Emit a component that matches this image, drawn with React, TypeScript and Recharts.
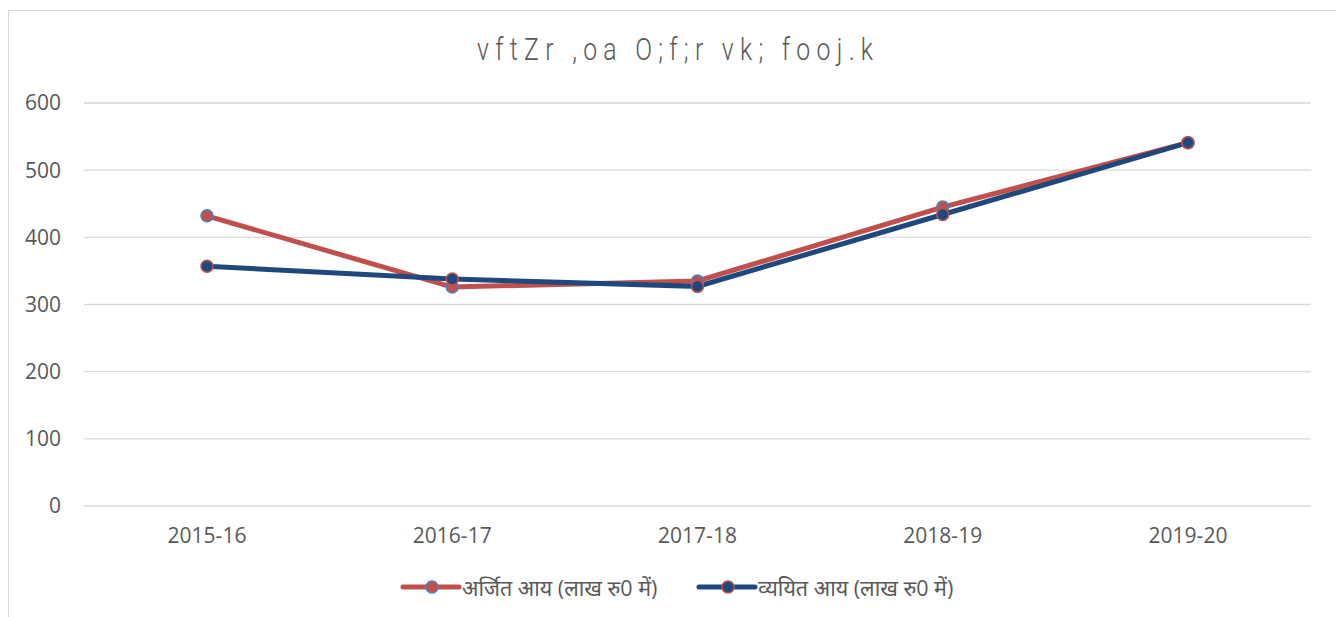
import React from 'react';
import { LineChart, Line, XAxis, YAxis, CartesianGrid } from 'recharts';

const categories = ['2015-16', '2016-17', '2017-18', '2018-19', '2019-20'];
const earnedIncome = [432, 326, 335, 445, 541];
const spentIncome = [357, 338, 327, 434, 541];
const yTicks = [0, 100, 200, 300, 400, 500, 600];
const titleText = 'vftZr ,oa O;f;r vk; fooj.k';
const earnedName = 'अर्जित आय (लाख रु0 में)';
const spentName = 'व्ययित आय (लाख रु0 में)';

const RED = '#C0504D';
const BLUE = '#1F497D';
const LIGHTBLUE = '#4F81BD';
const TEXT = '#595959';
const FONT = '"Open Sans", "Noto Sans", sans-serif';

const data = categories.map((c, i) => ({ cat: c, earned: earnedIncome[i], spent: spentIncome[i] }));

const legendItems = [
  { name: earnedName, line: RED, fill: RED, ring: LIGHTBLUE, x: 394 },
  { name: spentName, line: BLUE, fill: BLUE, ring: RED, x: 690 },
];

const TITLE_SCALE = 0.8;

export default function App() {
  return (
    <div
      style={{
        position: 'relative',
        top: 2,
        width: 1331,
        height: 620,
        border: '1px solid #d9d9d9',
        background: '#fff',
      }}
    >
      <div style={{ position: 'absolute', left: 0, top: 0 }}>
        <LineChart
          width={1331}
          height={600}
          data={data}
          margin={{ top: 92, right: 29, left: 0, bottom: 65 }}
        >
          <CartesianGrid horizontal vertical={false} stroke="#d9d9d9" strokeWidth={1.3} />
          <XAxis
            dataKey="cat"
            padding={{ left: 123, right: 123 }}
            axisLine={false}
            tickLine={false}
            tickSize={0}
            tickMargin={22}
            height={40}
            tick={{ fill: TEXT, fontSize: 21, fontFamily: FONT }}
          />
          <YAxis
            domain={[0, 600]}
            ticks={yTicks}
            axisLine={false}
            tickLine={false}
            tickSize={0}
            tickMargin={23}
            width={75}
            tick={{ fill: TEXT, fontSize: 21, fontFamily: FONT }}
          />
          <Line
            dataKey="earned"
            name={earnedName}
            stroke={RED}
            strokeWidth={5}
            isAnimationActive={false}
            dot={{ r: 6, fill: RED, stroke: LIGHTBLUE, strokeWidth: 1.5 }}
          />
          <Line
            dataKey="spent"
            name={spentName}
            stroke={BLUE}
            strokeWidth={5}
            isAnimationActive={false}
            dot={{ r: 6, fill: BLUE, stroke: RED, strokeWidth: 1.5 }}
          />
        </LineChart>
      </div>
      <svg
        width={1331}
        height={620}
        style={{ position: 'absolute', left: 0, top: 0, pointerEvents: 'none' }}
      >
        <g transform={`translate(468, 0) scale(${TITLE_SCALE}, 1)`}>
          <text
            x={0}
            y={49}
            textAnchor="start"
            fill={TEXT}
            fontSize={31}
            fontWeight={300}
            fontFamily="Roboto, sans-serif"
            textLength={396 / TITLE_SCALE}
            lengthAdjust="spacing"
          >
            {titleText}
          </text>
        </g>
        {legendItems.map((it) => (
          <g key={it.name}>
            <line x1={it.x} x2={it.x + 56} y1={576} y2={576} stroke={it.line} strokeWidth={5} strokeLinecap="round" />
            <circle cx={it.x + 29} cy={576} r={6} fill={it.fill} stroke={it.ring} strokeWidth={1.5} />
            <text
              x={it.x + 59}
              y={576}
              dominantBaseline="central"
              fill={TEXT}
              fontSize={21.5}
              fontFamily={FONT}
            >
              {it.name}
            </text>
          </g>
        ))}
      </svg>
    </div>
  );
}
